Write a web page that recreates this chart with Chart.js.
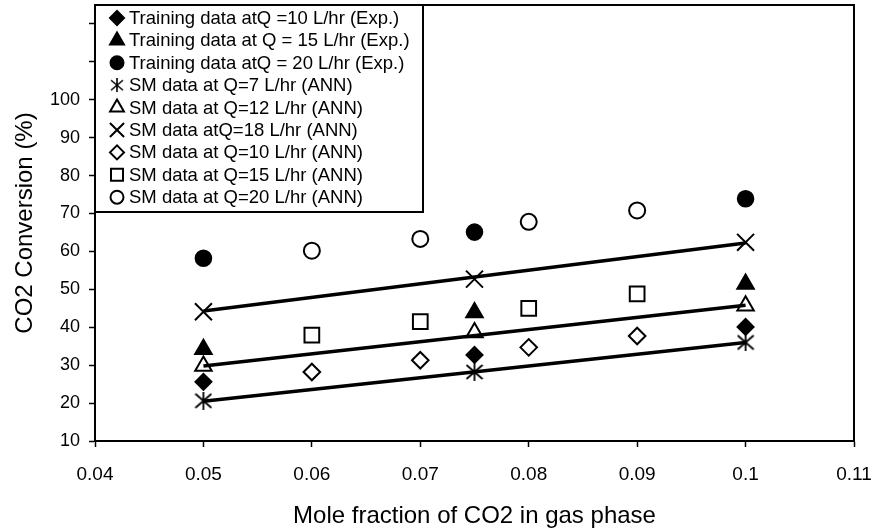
<!DOCTYPE html>
<html lang="en">
<head>
    <meta charset="UTF-8">
    <title>CO2 Conversion vs Mole Fraction</title>
    <script src="https://cdn.jsdelivr.net/npm/chart.js"></script>
    <style>
        html, body { margin: 0; padding: 0; background: #fff; }
        #wrap { width: 877px; height: 531px; }
    </style>
</head>
<body>
    <div id="wrap"><canvas id="myChart" width="877" height="531"></canvas></div>

    <script>
        // x positions of the measured (exp.) points and the ANN-only points
        const xExp = [0.05, 0.075, 0.1];
        const xSm = [0.06, 0.07, 0.08, 0.09];

        // Training data (Exp.)
        const trainQ10 = [25.6, 32.7, 40.1];
        const trainQ15 = [34.2, 43.9, 51.4];
        const trainQ20 = [58.2, 65.1, 73.9];

        // SM data (ANN) at the exp. positions
        const smQ7 = [20.6, 28.2, 36.0];
        const smQ12 = [29.8, 38.6, 45.7];
        const smQ18 = [44.1, 52.7, 62.4];

        // SM data (ANN) in between
        const smQ10 = [28.2, 31.3, 34.7, 37.7];
        const smQ15 = [37.9, 41.5, 45.0, 48.8];
        const smQ20 = [60.2, 63.3, 67.8, 70.8];

        // trend lines
        const fitX = [0.05, 0.1];
        const fitQ7 = [20.5, 36.0];
        const fitQ12 = [29.8, 45.8];
        const fitQ18 = [44.3, 62.2];

        // axis ticks
        const xTicks = [0.04, 0.05, 0.06, 0.07, 0.08, 0.09, 0.1, 0.11];
        const xLabels = ['0.04', '0.05', '0.06', '0.07', '0.08', '0.09', '0.1', '0.11'];
        const yTicks = [10, 20, 30, 40, 50, 60, 70, 80, 90, 100, 110, 120];
        const yLabels = ['10', '20', '30', '40', '50', '60', '70', '80', '90', '100'];

        const FONT = "'Liberation Sans', Arial, sans-serif";

        // 6-armed asterisk marker (vertical bar + X)
        function makeAsterisk(size, lw) {
            const c = document.createElement('canvas');
            c.width = size; c.height = size;
            const g = c.getContext('2d');
            g.strokeStyle = '#000';
            g.lineWidth = lw;
            const m = size / 2, a = 1;
            g.beginPath();
            g.moveTo(m, 0); g.lineTo(m, size);
            g.moveTo(a, a + 1); g.lineTo(size - a, size - a - 1);
            g.moveTo(size - a, a + 1); g.lineTo(a, size - a - 1);
            g.stroke();
            return c;
        }
        const asterisk = makeAsterisk(18, 1.8);
        const asteriskSmall = makeAsterisk(14, 1.6);

        const pts = (xs, ys) => xs.map((x, i) => ({ x: x, y: ys[i] }));

        function markers(label, xs, ys, style, radius, filled, extra) {
            return Object.assign({
                label: label,
                data: pts(xs, ys),
                showLine: false,
                pointStyle: style,
                pointRadius: radius,
                pointBackgroundColor: filled ? '#000' : '#fff',
                pointBorderColor: '#000',
                pointBorderWidth: 2,
                order: 2
            }, extra || {});
        }

        function fitLine(ys) {
            return {
                label: '',
                data: pts(fitX, ys),
                showLine: true,
                borderColor: '#000',
                borderWidth: 3.5,
                pointRadius: 0,
                fill: false,
                order: 1,
                isFit: true
            };
        }

        const datasets = [
            markers('Training data atQ =10 L/hr (Exp.)', xExp, trainQ10, 'rectRot', 8, true, { legendRadius: 7 }),
            markers('Training data at Q = 15 L/hr (Exp.)', xExp, trainQ15, 'triangle', 9.5, true, { legendRadius: 8 }),
            markers('Training data atQ = 20 L/hr (Exp.)', xExp, trainQ20, 'circle', 7.8, true, { legendRadius: 6.5 }),
            markers('SM data at Q=7 L/hr (ANN)', xExp, smQ7, asterisk, 9, false, { legendImg: asteriskSmall }),
            markers('SM data at Q=12 L/hr (ANN)', xExp, smQ12, 'triangle', 9.5, false, { legendRadius: 8 }),
            markers('SM data atQ=18 L/hr (ANN)', xExp, smQ18, 'crossRot', 12, false, { legendRadius: 10 }),
            markers('SM data at Q=10 L/hr (ANN)', xSm, smQ10, 'rectRot', 8.3, false, { legendRadius: 7 }),
            markers('SM data at Q=15 L/hr (ANN)', xSm, smQ15, 'rect', 10.4, false, { legendRadius: 8.5 }),
            markers('SM data at Q=20 L/hr (ANN)', xSm, smQ20, 'circle', 8, false, { legendRadius: 6.5 }),
            fitLine(fitQ7),
            fitLine(fitQ12),
            fitLine(fitQ18)
        ];

        // frame on top/right + boxed legend inside the plot
        const framePlugin = {
            id: 'frameAndLegend',
            afterDraw(chart) {
                const ctx = chart.ctx;
                const a = chart.chartArea;
                ctx.save();
                ctx.strokeStyle = '#000';
                ctx.lineWidth = 2;
                ctx.beginPath();
                ctx.moveTo(a.left, a.top);
                ctx.lineTo(a.right, a.top);
                ctx.lineTo(a.right, a.bottom);
                ctx.stroke();

                // legend box
                const bx = a.left, by = a.top, bw = 328, bh = 207;
                ctx.fillStyle = '#fff';
                ctx.fillRect(bx, by, bw, bh);
                ctx.strokeRect(bx, by, bw, bh);

                ctx.font = '18.5px ' + FONT;
                ctx.textBaseline = 'middle';
                ctx.textAlign = 'left';
                let row = 0;
                chart.data.datasets.forEach(ds => {
                    if (ds.isFit) return;
                    const cy = by + 13 + row * 22.4;
                    const cx = bx + 22;
                    ctx.fillStyle = ds.pointBackgroundColor;
                    ctx.strokeStyle = '#000';
                    ctx.lineWidth = 2;
                    if (ds.legendImg) {
                        const im = ds.legendImg;
                        ctx.drawImage(im, cx - im.width / 2, cy - im.height / 2);
                    } else if (Chart.helpers && Chart.helpers.drawPoint) {
                        Chart.helpers.drawPoint(ctx, {
                            pointStyle: ds.pointStyle,
                            radius: ds.legendRadius,
                            borderWidth: 2,
                            rotation: 0
                        }, cx, cy);
                    }
                    ctx.fillStyle = '#000';
                    ctx.fillText(ds.label, bx + 34, cy + 1);
                    row++;
                });
                ctx.restore();
            }
        };

        const ctx = document.getElementById('myChart').getContext('2d');
        new Chart(ctx, {
            type: 'scatter',
            data: { datasets: datasets },
            options: {
                responsive: false,
                animation: false,
                layout: {
                    autoPadding: false,
                    padding: { top: 5, right: 23, left: 0, bottom: 0 }
                },
                scales: {
                    x: {
                        type: 'linear',
                        min: 0.04,
                        max: 0.11,
                        afterBuildTicks: scale => { scale.ticks = xTicks.map(v => ({ value: v })); },
                        afterFit: scale => {
                            scale.height = 90;
                            scale.paddingLeft = 0;
                            scale.paddingRight = 0;
                        },
                        ticks: {
                            callback: (v, i) => xLabels[i],
                            color: '#000',
                            padding: 16,
                            maxRotation: 0,
                            autoSkip: false,
                            font: { family: FONT, size: 19 }
                        },
                        grid: {
                            drawOnChartArea: false,
                            tickLength: 6,
                            tickColor: '#000',
                            tickWidth: 1.5
                        },
                        border: { color: '#000', width: 2 },
                        title: {
                            display: true,
                            text: 'Mole fraction of CO2 in gas phase',
                            color: '#000',
                            padding: { top: 0, bottom: 3 },
                            font: { family: FONT, size: 24, lineHeight: 1 }
                        }
                    },
                    y: {
                        min: 10,
                        max: 125,
                        afterBuildTicks: scale => { scale.ticks = yTicks.map(v => ({ value: v })); },
                        afterFit: scale => {
                            scale.width = 95;
                            scale.paddingTop = 0;
                            scale.paddingBottom = 0;
                        },
                        ticks: {
                            callback: (v, i) => yLabels[i] || '',
                            color: '#000',
                            padding: 9,
                            autoSkip: false,
                            font: { family: FONT, size: 18 }
                        },
                        grid: {
                            drawOnChartArea: false,
                            tickLength: 6,
                            tickColor: '#000',
                            tickWidth: 1.5
                        },
                        border: { color: '#000', width: 2 },
                        title: {
                            display: true,
                            text: 'CO2 Conversion (%)',
                            color: '#000',
                            padding: { top: 13, bottom: 0 },
                            font: { family: FONT, size: 24, lineHeight: 1 }
                        }
                    }
                },
                plugins: {
                    legend: { display: false },
                    tooltip: { enabled: false }
                }
            },
            plugins: [framePlugin]
        });
    </script>
</body>
</html>
